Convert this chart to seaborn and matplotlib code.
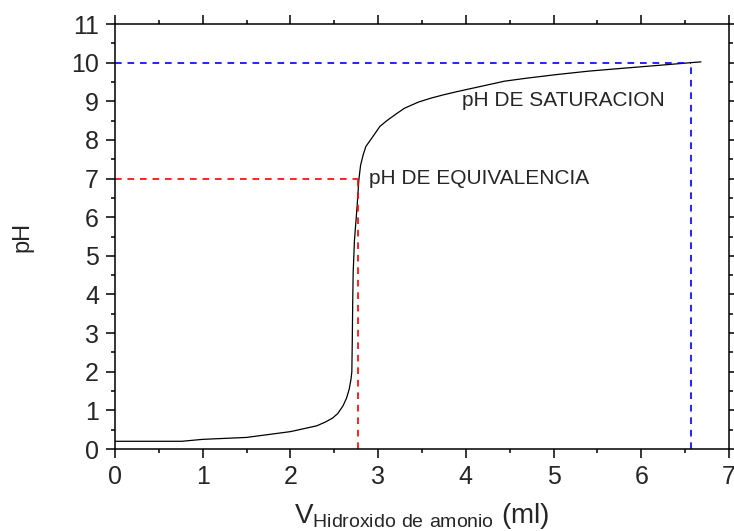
import matplotlib
matplotlib.use("Agg")
import matplotlib.pyplot as plt
from matplotlib.ticker import MultipleLocator
import seaborn as sns
import pandas as pd

# ---- data ----
volumen = [0.0, 0.76, 1.0, 1.5, 2.0, 2.1, 2.2, 2.3, 2.4, 2.48, 2.54, 2.6,
           2.64, 2.67, 2.69, 2.70, 2.705, 2.71, 2.715, 2.73, 2.76, 2.78,
           2.80, 2.83, 2.86, 2.95, 3.02, 3.1, 3.21, 3.3, 3.46, 3.6, 3.75,
           3.9, 4.0, 4.2, 4.44, 4.7, 5.03, 5.4, 5.82, 6.2, 6.57, 6.68]
ph = [0.2, 0.2, 0.25, 0.30, 0.45, 0.5, 0.55, 0.6, 0.7, 0.8, 0.92, 1.12,
      1.32, 1.55, 1.8, 2.0, 2.8, 3.8, 4.56, 5.41, 6.28, 6.97,
      7.35, 7.62, 7.83, 8.12, 8.35, 8.5, 8.68, 8.82, 8.98, 9.08, 9.17,
      9.25, 9.30, 9.40, 9.52, 9.6, 9.69, 9.78, 9.86, 9.93, 10.0, 10.02]

eq_vol, eq_ph = 2.77, 7.0
sat_vol, sat_ph = 6.57, 10.0

label_eq = "pH DE EQUIVALENCIA"
label_sat = "pH DE SATURACION"
xlabel = r"V$_{\mathsf{Hidroxido\ de\ amonio}}$ (ml)"
ylabel = "pH"

df = pd.DataFrame({"vol": volumen, "ph": ph})

sns.set_style("ticks")
plt.rcParams["font.family"] = ["Liberation Sans", "DejaVu Sans"]
plt.rcParams["mathtext.fontset"] = "custom"
plt.rcParams["mathtext.sf"] = "Liberation Sans"
plt.rcParams["mathtext.rm"] = "Liberation Sans"

fig = plt.figure(figsize=(7.34, 5.31), dpi=100)
ax = fig.add_axes([0.1567, 0.1544, 0.9932 - 0.1567, 0.9548 - 0.1544])

sns.lineplot(data=df, x="vol", y="ph", color="black", lw=0.9,
             estimator=None, sort=False, ax=ax)

dash = (0, (4, 3.5))
# equivalence guides
ax.plot([0, eq_vol], [eq_ph, eq_ph], color="#ff0000", lw=1.2, ls=dash)
ax.plot([eq_vol, eq_vol], [0, eq_ph], color="#ff0000", lw=1.2, ls=dash)
# saturation guides
ax.plot([0, sat_vol], [sat_ph, sat_ph], color="#0000ff", lw=1.2, ls=dash)
ax.plot([sat_vol, sat_vol], [0, sat_ph], color="#0000ff", lw=1.2, ls=dash)

ax.text(2.90, 6.86, label_eq, fontsize=15, va="baseline", ha="left")
ax.text(3.96, 8.87, label_sat, fontsize=15, va="baseline", ha="left")

ax.set_xlim(0, 7)
ax.set_ylim(0, 11)
ax.xaxis.set_major_locator(MultipleLocator(1))
ax.xaxis.set_minor_locator(MultipleLocator(0.5))
ax.yaxis.set_major_locator(MultipleLocator(1))
ax.yaxis.set_minor_locator(MultipleLocator(0.5))

ax.tick_params(which="both", direction="out", top=True, right=True,
               labeltop=False, labelright=False, width=1.1, color="black")
ax.tick_params(which="major", length=6.5, labelsize=18, pad=5)
ax.tick_params(which="minor", length=3.2)

for s in ax.spines.values():
    s.set_visible(True)
    s.set_linewidth(1.1)
    s.set_color("black")

ax.set_xlabel(xlabel, fontsize=20, labelpad=9)
ax.set_ylabel(ylabel, fontsize=17, labelpad=27)

fig.savefig("out.png", dpi=100)
